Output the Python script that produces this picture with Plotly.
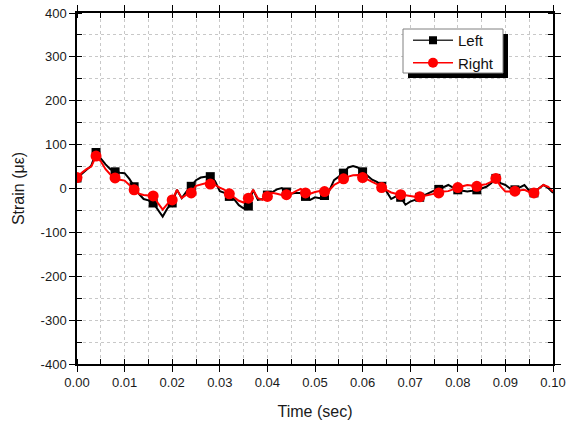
import plotly.graph_objects as go

# Sampling: one reading per millisecond over 0.1 s
time_ms = list(range(0, 101))
time_s = [t / 1000 for t in time_ms]

left_strain = [
    24, 33, 42, 52, 82, 68, 55, 44, 38, 36,
    35, 22, 4, -12, -24, -27, -33, -48, -64, -45,
    -33, -3, -22, -7, 5, 19, 25, 27, 27, 17,
    -6, -10, -18, -24, -38, -45, -40, -3, -26, -24,
    -15, -8, -2, 1, -8, -12, -10, -10, -18, -26,
    -20, -22, -16, -5, 19, 28, 35, 48, 51, 48,
    38, 30, 20, 15, 5, -6, -24, -18, -20, -37,
    -30, -26, -20, -15, -10, -5, -2, 3, 8, 2,
    -3, -5, -7, -5, -3, 0, 4, 12, 23, 12,
    8, 0, -3, 2, 8, -5, -10, 0, 8, 1,
    -10,
]

right_strain = [
    25, 36, 44, 50, 74, 62, 44, 32, 24, 20,
    18, 8, -3, -12, -15, -16, -17, -33, -48, -35,
    -26, -3, -22, -14, -10, 6, 9, 12, 10, 8,
    2, -3, -12, -20, -28, -32, -22, -3, -22, -26,
    -18, -10, -12, -15, -14, -12, -6, -1, -10, -12,
    -8, -6, -7, -4, 8, 14, 22, 27, 30, 31,
    25, 21, 15, 10, 2, -3, -9, -12, -14, -15,
    -18, -19, -19, -17, -15, -12, -10, -7, -6, -2,
    2, 5, 8, 6, 5, 8, 10, 15, 23, 5,
    -7, -7, -6, -4, -3, -8, -10, 0, 8, 4,
    -7,
]

marker_step = 4

x_tick_vals = [0.00, 0.01, 0.02, 0.03, 0.04, 0.05, 0.06, 0.07, 0.08, 0.09, 0.10]
x_tick_text = ["0.00", "0.01", "0.02", "0.03", "0.04", "0.05",
               "0.06", "0.07", "0.08", "0.09", "0.10"]
y_tick_vals = [-400, -300, -200, -100, 0, 100, 200, 300, 400]
y_tick_text = ["-400", "-300", "-200", "-100", "0", "100", "200", "300", "400"]

W, H = 566, 421
ML, MR, MT, MB = 77, 13, 13, 57
PW, PH = W - ML - MR, H - MT - MB


def px_to_paper(px, py):
    return (px - ML) / PW, (H - MB - py) / PH


FONT = "Arial, Liberation Sans, sans-serif"

fig = go.Figure()

marker_idx = list(range(0, len(time_s) - 1, marker_step))

fig.add_trace(go.Scatter(
    x=time_s, y=left_strain, mode="lines",
    line=dict(color="black", width=2), showlegend=False, hoverinfo="skip"))
fig.add_trace(go.Scatter(
    x=[time_s[i] for i in marker_idx], y=[left_strain[i] for i in marker_idx],
    mode="markers", marker=dict(symbol="square", size=9, color="black"),
    showlegend=False))
fig.add_trace(go.Scatter(
    x=time_s, y=right_strain, mode="lines",
    line=dict(color="#ff0000", width=2), showlegend=False, hoverinfo="skip"))
fig.add_trace(go.Scatter(
    x=[time_s[i] for i in marker_idx], y=[right_strain[i] for i in marker_idx],
    mode="markers", marker=dict(symbol="circle", size=11, color="#ff0000"),
    showlegend=False))

# Legend entries (line with marker sample)
fig.add_trace(go.Scatter(
    x=[None], y=[None], mode="lines+markers", name="Left",
    line=dict(color="#333", width=1.6),
    marker=dict(symbol="square", size=8, color="black")))
fig.add_trace(go.Scatter(
    x=[None], y=[None], mode="lines+markers", name="Right",
    line=dict(color="#ff0000", width=1.6),
    marker=dict(symbol="circle", size=10, color="#ff0000")))

# Legend frame with drop shadow
sx0, sy0 = px_to_paper(408, 34)
sx1, sy1 = px_to_paper(508, 78)
bx0, by0 = px_to_paper(403, 29)
bx1, by1 = px_to_paper(503, 73)
fig.add_shape(type="rect", xref="paper", yref="paper",
              x0=sx0, y0=sy0, x1=sx1, y1=sy1,
              fillcolor="black", line=dict(width=0), layer="above")
fig.add_shape(type="rect", xref="paper", yref="paper",
              x0=bx0, y0=by0, x1=bx1, y1=by1,
              fillcolor="white", line=dict(color="#808080", width=1), layer="above")

lx, ly = px_to_paper(408, 24)

grid_dash = "3px,3px"
axis_common = dict(
    showline=True, linecolor="black", linewidth=1.5, mirror="ticks",
    ticks="outside", ticklen=6, tickwidth=1, tickcolor="black",
    showgrid=True, gridcolor="#c8c8c8", gridwidth=1, griddash=grid_dash,
    zeroline=False,
    tickfont=dict(family=FONT, size=13, color="#1a1a1a"),
)

fig.update_xaxes(
    range=[0, 0.10], tickmode="array", tickvals=x_tick_vals, ticktext=x_tick_text,
    minor=dict(dtick=0.005, ticks="inside", ticklen=5, tickcolor="black",
               showgrid=True, gridcolor="#c8c8c8", griddash=grid_dash),
    title=dict(text="Time (sec)", font=dict(family=FONT, size=16, color="#1a1a1a"),
               standoff=16),
    **axis_common)
fig.update_yaxes(
    range=[-400, 400], tickmode="array", tickvals=y_tick_vals, ticktext=y_tick_text,
    minor=dict(dtick=50, tick0=0, ticks="inside", ticklen=5, tickcolor="black",
               showgrid=True, gridcolor="#c8c8c8", griddash=grid_dash),
    title=dict(text="Strain (\u03bc\u03b5)", font=dict(family=FONT, size=16, color="#1a1a1a"),
               standoff=12),
    **axis_common)

fig.update_layout(
    width=W, height=H,
    margin=dict(l=ML, r=MR, t=MT, b=MB, autoexpand=False),
    paper_bgcolor="white", plot_bgcolor="white",
    legend=dict(x=lx, y=ly, xanchor="left", yanchor="top",
                bgcolor="rgba(0,0,0,0)", borderwidth=0,
                font=dict(family=FONT, size=15, color="#111"),
                itemwidth=40, tracegroupgap=0),
)

fig.write_html("out.html")
